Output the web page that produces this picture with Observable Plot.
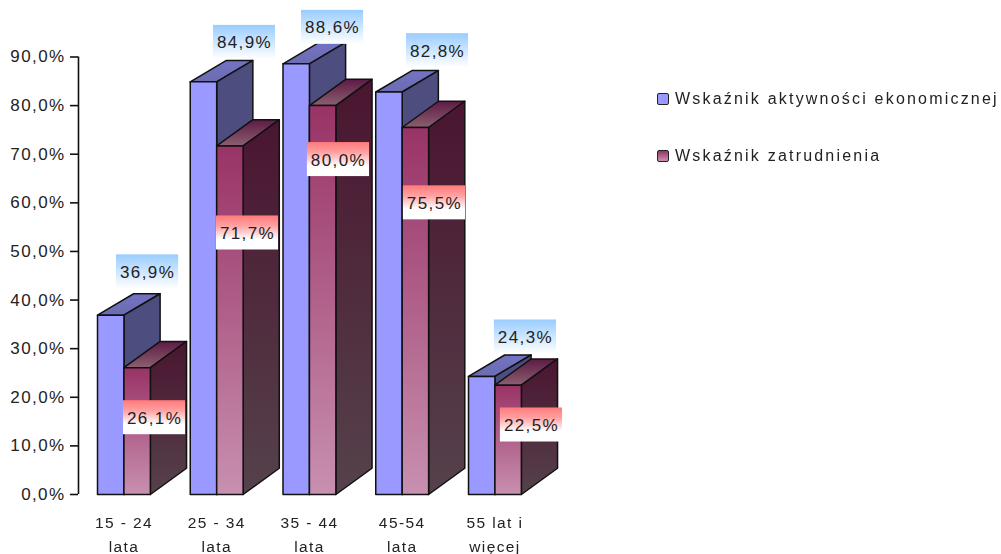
<!DOCTYPE html>
<html><head><meta charset="utf-8">
<script src="https://cdn.jsdelivr.net/npm/d3@7"></script>
<script src="https://cdn.jsdelivr.net/npm/@observablehq/plot@0.6"></script>
<style>
html,body{margin:0;padding:0;background:#fff;}
#wrap{position:relative;width:1001px;height:554px;overflow:hidden;font-family:"Liberation Sans",Arial,sans-serif;}
#wrap svg text{letter-spacing:1.4px;}
#chart svg{filter:blur(.45px);}
.lg{position:absolute;left:657px;display:flex;align-items:center;font-size:16px;letter-spacing:2.2px;color:#222;white-space:pre;filter:blur(.35px);}
.lg i{display:block;width:10px;height:10px;border:1.5px solid #222;border-radius:2px;margin-right:6px;}
</style></head><body>
<div id="wrap">
<div id="chart"></div>
<div class="lg" style="top:90px"><i style="background:#9999ff"></i>Wskaźnik aktywności ekonomicznej</div>
<div class="lg" style="top:147px"><i style="background:linear-gradient(#993366,#c890b0)"></i>Wskaźnik zatrudnienia</div>
</div>
<script>
const categories = ["15 - 24\nlata","25 - 34\nlata","35 - 44\nlata","45-54\nlata","55 lat i\nwięcej"];
const activity = [36.9,84.9,88.6,82.8,24.3];
const employment = [26.1,71.7,80.0,75.5,22.5];
const yTicks = [0,10,20,30,40,50,60,70,80,90];

// label anchors (x in category units, y in percent)
const activityLabelX = [0.54,1.585,2.534,3.666,4.614];
const activityLabelY = [45.7,92.9,96,91.2,32.3];
const employmentLabelX = [0.615,1.617,2.598,3.633,4.679];
const employmentLabelY = [15.7,53.7,68.8,59.9,14.2];

const barW = 0.285, depthX = 0.39, depthYA = 4.4, depthYE = 5.4;
const fmt = d => d.toFixed(1).replace(".",",")+"%";

function poly(id, pts){ return pts.map(([x,y])=>({id,x,y})); }
function parts(vals, off, dy){
  const front=[],side=[],top=[];
  vals.forEach((v,i)=>{
    const a=i+off,b=a+barW,c=b+depthX;
    front.push(...poly(i,[[a,0],[b,0],[b,v],[a,v],[a,0]]));
    side.push(...poly(i,[[b,0],[c,dy],[c,v+dy],[b,v],[b,0]]));
    top.push(...poly(i,[[a,v],[b,v],[c,v+dy],[a+depthX,v+dy],[a,v]]));
  });
  return {front,side,top};
}
const A=parts(activity,0,depthYA), E=parts(employment,barW,depthYE);
const lineOpts=(fill)=>({x:"x",y:"y",z:"id",fill,stroke:"#111",strokeWidth:1.5,strokeLinejoin:"round"});

function grad(id,stops){
  return `<linearGradient id="${id}" x1="0" y1="0" x2="0" y2="1">`+stops.map(([o,c])=>`<stop offset="${o}" stop-color="${c}"/>`).join("")+`</linearGradient>`;
}
function defs(){
  const g=document.createElementNS("http://www.w3.org/2000/svg","g");
  g.innerHTML=`<defs>`+
    grad("gFront",[[0,"#993366"],[1,"#c890b0"]])+
    grad("gSide",[[0,"#4a1530"],[1,"#55424b"]])+
    grad("gTop",[[0,"#5e1a45"],[1,"#8a6070"]])+
    grad("gTopA",[[0,"#7373c4"],[1,"#6c6cb0"]])+
    grad("gBlue",[[0,"#99ccff"],[1,"#ffffff"]])+
    grad("gRed",[[0,"#ff7a7a"],[.3,"#ffa0a0"],[.7,"#ffffff"],[1,"#ffffff"]])+
  `</defs>`;
  return g;
}
const boxes=(xs,ys,fill)=>Plot.rect(xs.map((x,i)=>({x,y:ys[i]})),{
  x1:d=>d.x-0.335,x2:d=>d.x+0.335,y1:d=>d.y-3.4,y2:d=>d.y+3.6,fill});
const labels=(xs,ys,vals)=>Plot.text(vals.map((v,i)=>({x:xs[i],y:ys[i],v})),{
  x:"x",y:"y",text:d=>fmt(d.v),fontSize:17,fill:"#222"});

const plot=Plot.plot({
  width:1001,height:554,marginLeft:78,marginTop:0,marginRight:0,marginBottom:0,
  style:{background:"white",fontFamily:'"Liberation Sans",Arial,sans-serif',color:"#111",overflow:"visible"},
  x:{domain:[0,5],range:[97,560.75],axis:null},
  y:{domain:[0,90],range:[494,56.5],axis:null},
  marks:[
    defs,
    Plot.axisY({anchor:"left",ticks:yTicks,tickFormat:fmt,tickSize:8,tickPadding:5,fontSize:17,label:null,strokeWidth:1.6,fill:"#222"}),
    Plot.ruleX([-0.205],{y1:0,y2:90,stroke:"#111",strokeWidth:1.6}),
    Plot.line(A.top,lineOpts("url(#gTopA)")),
    Plot.line(A.side,lineOpts("#4d4d80")),
    Plot.line(A.front,lineOpts("#9999ff")),
    Plot.line(E.top,lineOpts("url(#gTop)")),
    Plot.line(E.side,lineOpts("url(#gSide)")),
    Plot.line(E.front,lineOpts("url(#gFront)")),
    boxes(activityLabelX,activityLabelY,"url(#gBlue)"),
    boxes(employmentLabelX,employmentLabelY,"url(#gRed)"),
    labels(activityLabelX,activityLabelY,activity),
    labels(employmentLabelX,employmentLabelY,employment),
    Plot.text(categories,{x:(d,i)=>i+barW,y:-7.75,text:d=>d,fontSize:15.5,lineHeight:1.55,fill:"#222"})
  ]
});
document.getElementById("chart").append(plot);
</script>
</body></html>
